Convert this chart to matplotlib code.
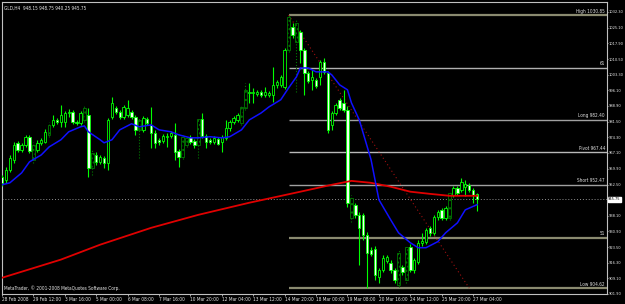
import matplotlib
matplotlib.use("Agg")
import matplotlib.pyplot as plt
import matplotlib.transforms as mtransforms
from matplotlib.patches import Rectangle

plt.rcParams["font.family"] = ["DejaVu Sans"]
plt.rcParams["font.stretch"] = "condensed"

# GLD H4 candles, bar 0 = 28 Feb 2008
opens = [956.1, 954.7, 959.3, 963.9, 971.8, 968.6, 970.9, 974.6, 963.9, 968.6,
         971.8, 972.3, 975.5, 980.1, 982.4, 981.5, 981.5, 985.6, 986.1, 981.5,
         981.0, 982.4, 984.7, 960.2, 966.2, 963.0, 964.9, 962.6, 983.8, 988.0,
         986.1, 983.8, 984.7, 986.1, 983.8, 977.8, 977.8, 982.9, 980.1, 976.4,
         973.2, 972.7, 974.6, 975.0, 975.5, 968.1, 965.3, 970.9, 974.6, 972.7,
         970.9, 982.9, 975.0, 973.2, 972.3, 973.6, 972.3, 974.1, 978.7, 981.5,
         982.4, 981.0, 988.0, 994.9, 994.9, 994.4, 995.3, 994.0, 994.0, 994.0,
         998.6, 998.6, 997.7, 1014.7, 1025.4, 1027.2, 1023.1, 1014.7, 1004.1, 1000.9,
         1000.9, 1002.3, 1009.2, 1004.1, 980.1, 985.6, 991.7, 990.3, 987.0, 937.1,
         943.2, 938.5, 938.5, 929.3, 922.4, 922.8, 909.9, 913.1, 917.3, 916.4,
         913.1, 906.2, 914.5, 908.5, 923.8, 913.1, 916.8, 925.6, 926.1, 932.5,
         930.2, 937.6, 940.8, 937.1, 937.1, 947.8, 951.0, 950.1, 951.5, 952.4,
         950.1, 948.15]
highs = [957.0, 960.7, 966.2, 972.3, 972.7, 971.8, 975.5, 975.5, 972.3, 973.2,
         974.1, 978.3, 981.5, 984.7, 983.3, 989.3, 986.6, 987.5, 987.0, 982.4,
         986.6, 988.9, 988.0, 968.6, 967.6, 966.2, 965.8, 983.3, 993.0, 988.9,
         987.0, 989.3, 991.7, 987.0, 984.7, 983.3, 984.3, 983.8, 988.4, 977.8,
         974.1, 976.0, 976.4, 977.3, 981.0, 969.0, 975.5, 975.0, 975.5, 973.6,
         983.8, 985.6, 976.0, 974.1, 975.0, 974.6, 975.5, 982.4, 982.4, 984.3,
         985.6, 989.3, 999.5, 999.5, 997.2, 996.3, 996.3, 997.7, 995.8, 1006.9,
         1000.9, 1003.2, 1015.7, 1030.85, 1027.2, 1028.6, 1024.0, 1015.7, 1005.0, 1005.5,
         1001.8, 1010.1, 1011.1, 1005.0, 986.6, 990.3, 992.6, 996.3, 988.9, 947.8,
         944.1, 939.9, 939.5, 930.7, 923.8, 924.2, 914.1, 920.1, 920.1, 917.8,
         914.1, 922.4, 915.4, 924.7, 925.1, 918.7, 927.0, 930.2, 932.5, 933.5,
         938.5, 940.8, 941.8, 942.7, 949.6, 951.9, 951.9, 955.6, 954.7, 953.3,
         951.0, 948.75]
lows = [951.9, 953.3, 958.4, 962.6, 967.6, 967.6, 969.9, 967.2, 962.6, 967.6,
        970.9, 971.8, 974.6, 979.2, 980.6, 979.2, 979.2, 983.8, 980.6, 980.1,
        980.1, 981.5, 956.1, 957.0, 961.6, 962.1, 960.2, 959.3, 982.9, 985.2,
        982.9, 982.9, 983.8, 982.9, 975.5, 964.9, 976.9, 980.1, 969.5, 969.5,
        970.9, 971.8, 969.9, 974.1, 963.9, 960.7, 964.4, 969.9, 971.3, 969.5,
        964.9, 974.1, 969.5, 971.3, 971.3, 970.9, 967.6, 973.2, 977.3, 980.6,
        981.5, 980.1, 987.0, 990.3, 990.3, 993.5, 993.0, 993.0, 993.0, 990.7,
        997.2, 997.7, 996.7, 1013.8, 1020.3, 995.3, 1008.7, 994.0, 999.5, 996.3,
        997.2, 998.6, 1003.7, 976.4, 977.8, 984.7, 987.0, 986.1, 942.2, 935.3,
        937.1, 915.4, 927.0, 904.62, 919.6, 908.5, 907.1, 912.2, 916.4, 911.7,
        907.1, 905.3, 910.8, 907.1, 912.2, 911.7, 915.9, 924.2, 925.1, 928.8,
        929.3, 936.2, 936.2, 936.2, 936.2, 946.8, 947.8, 949.2, 947.3, 949.2,
        944.1, 940.25]
closes = [953.3, 959.3, 964.9, 970.9, 968.6, 970.9, 974.6, 968.1, 970.9, 971.8,
          973.2, 976.9, 980.1, 982.4, 981.5, 984.7, 985.6, 986.1, 981.5, 981.0,
          985.6, 988.0, 960.2, 967.2, 963.0, 965.3, 962.6, 982.4, 990.3, 986.1,
          983.8, 988.4, 988.0, 983.8, 977.8, 982.4, 983.3, 981.0, 976.4, 971.8,
          972.3, 975.0, 975.0, 976.4, 967.6, 965.3, 974.6, 974.1, 972.3, 970.9,
          982.9, 975.0, 972.3, 972.3, 974.1, 971.3, 974.6, 978.7, 981.5, 983.3,
          984.7, 988.4, 996.3, 995.3, 995.3, 995.3, 994.0, 995.3, 994.9, 998.6,
          1000.0, 1002.3, 1014.7, 1030.0, 1021.7, 1018.4, 1014.7, 1004.1, 1000.4, 1002.3,
          998.1, 1009.2, 1004.6, 977.8, 985.6, 989.3, 988.0, 987.0, 944.1, 946.4,
          938.5, 932.5, 929.3, 921.0, 920.5, 910.8, 913.1, 918.7, 919.1, 913.1,
          908.5, 921.0, 912.2, 923.8, 913.1, 917.8, 925.6, 926.5, 931.6, 930.2,
          937.6, 939.9, 937.1, 941.8, 948.7, 951.0, 948.7, 953.8, 952.9, 950.1,
          947.8, 945.75]
dim_bars = [8, 12, 21, 23, 35, 46, 47, 50, 61, 62, 73, 75, 89, 101, 103, 114]

fast_ma_bars = [0, 2, 5, 7, 10, 12, 15, 17, 20, 21, 22, 25, 26, 28, 30, 33, 35, 38,
                40, 43, 45, 48, 50, 53, 56, 58, 61, 63, 66, 68, 71, 73, 75, 76, 78,
                80, 83, 84, 86, 88, 89, 91, 94, 96, 99, 101, 104, 106, 108, 111,
                113, 116, 118, 121]
fast_ma = [952.4, 953.3, 957.9, 963.0, 966.2, 969.9, 973.2, 976.9, 979.2, 979.6,
           976.9, 973.2, 971.8, 973.2, 977.8, 980.6, 979.2, 980.1, 977.8, 976.9,
           975.5, 974.1, 974.1, 974.6, 974.1, 974.6, 977.8, 982.4, 985.6, 988.4,
           991.7, 997.2, 1002.3, 1006.4, 1006.4, 1004.6, 1004.6, 1003.2, 998.6, 996.3,
           990.3, 982.4, 964.0, 945.5, 936.2, 930.2, 925.6, 923.3, 923.3, 926.1,
           930.2, 934.8, 940.8, 943.2]
slow_ma_bars = [0, 15, 25, 38, 50, 63, 76, 84, 89, 94, 99, 104, 109, 114, 121]
slow_ma = [909.4, 917.8, 924.7, 932.5, 938.5, 944.1, 949.2, 952.4, 954.2, 953.3,
           951.5, 949.2, 948.2, 947.3, 947.3]

time_labels = ["28 Feb 2008", "29 Feb 12:00", "3 Mar 16:00", "5 Mar 00:00",
               "6 Mar 08:00", "7 Mar 16:00", "10 Mar 20:00", "12 Mar 04:00",
               "13 Mar 12:00", "14 Mar 20:00", "18 Mar 00:00", "19 Mar 08:00",
               "20 Mar 16:00", "24 Mar 12:00", "25 Mar 20:00", "27 Mar 04:00"]
price_ticks = [1032.30, 1025.10, 1017.90, 1010.50, 1003.30, 996.10, 988.90, 981.50,
               974.30, 967.10, 959.90, 952.50, 938.10, 930.90, 923.50, 916.30,
               909.10, 901.90]

level_names = ["High 1030.85", "61", "Long 982.40", "Pivot 967.44", "Short 952.47", "51", "Low 904.62"]
level_values = [1030.85, 1006.4, 982.40, 967.44, 952.47, 927.9, 904.62]
level_colors = ["#8a8a70", "#b0b0b0", "#a0a0a0", "#b8b8b8", "#a0a0a0", "#8a8a70", "#8a8a70"]
level_start = 73

trend_bars = [73, 119]
trend_prices = [1030.85, 904.62]
last_price = 945.75

GREEN = "#00ff00"
DIM = "#007a00"
FS = 3.4
FS_Y = 2.9

fig = plt.figure(figsize=(6.25, 3.04), dpi=100, facecolor="black")
ax = fig.add_axes([2 / 625, 10 / 304, 605 / 625, 292 / 304])
ax.set_facecolor("black")
ax.set_xlim(0.13, 154.1)
ax.set_ylim(902.0, 1036.9)

# pivot / fibo levels
for name, val, col in zip(level_names, level_values, level_colors):
    lw = 1.6 if col == "#8a8a70" else 1.0
    ax.hlines(val, level_start, 154.1, colors=col, linewidth=lw, zorder=1)
    ax.text(153.6, val + 0.7, name, color="#e0e0e0", fontsize=FS,
            ha="right", va="bottom", zorder=5)

ax.axhline(last_price, color="#909090", linewidth=0.7, linestyle=(0, (1, 2)), zorder=1)
ax.plot(trend_bars, trend_prices, color="#a01010", linewidth=0.8,
        linestyle=(0, (1, 2.5)), zorder=2)

# candles
w = 0.62
for i, (o, h, l, c) in enumerate(zip(opens, highs, lows, closes)):
    dim = i in dim_bars
    col = DIM if dim else GREEN
    ax.vlines(i, l, h, colors=col, linewidth=0.8,
              linestyles=":" if dim else "-", zorder=3)
    bottom = min(o, c)
    height = max(abs(c - o), 0.3)
    if dim:
        body = Rectangle((i - w / 2, bottom), w, height, facecolor="black",
                         edgecolor=DIM, hatch="....", linewidth=0.6, zorder=4)
    else:
        face = "black" if c >= o else "#f0fff0"
        body = Rectangle((i - w / 2, bottom), w, height, facecolor=face,
                         edgecolor=GREEN, linewidth=0.6, zorder=4)
    ax.add_patch(body)

ax.plot(slow_ma_bars, slow_ma, color="#e00000", linewidth=1.3, zorder=6)
ax.plot(fast_ma_bars, fast_ma, color="#1010ff", linewidth=1.1, zorder=6)

# axes styling
for s in ax.spines.values():
    s.set_color("#c0c0c0")
    s.set_linewidth(0.8)
ax.yaxis.tick_right()
ax.set_yticks(price_ticks)
ax.set_yticklabels([f"{p:.2f}" for p in price_ticks])
ax.set_xticks(range(0, 8 * len(time_labels), 8))
ax.set_xticklabels(time_labels, ha="left")
ax.tick_params(axis="x", colors="#c0c0c0", labelcolor="#e8e8e8",
               labelsize=FS, length=1.5, width=0.6, pad=0.6)
ax.tick_params(axis="y", colors="#c0c0c0", labelcolor="#e8e8e8",
               labelsize=FS_Y, length=1.0, width=0.6, pad=0.5)

trans = mtransforms.blended_transform_factory(ax.transAxes, ax.transData)
ax.text(1.002, last_price, f"{last_price:.2f}", transform=trans, fontsize=FS_Y,
        color="black", va="center", ha="left",
        bbox=dict(boxstyle="square,pad=0.15", facecolor="white", edgecolor="white"),
        zorder=10, clip_on=False)

ax.text(0.004, 0.988, "GLD,H4  948.15 948.75 940.25 945.75", transform=ax.transAxes,
        color="#e8e8e8", fontsize=FS, ha="left", va="top")
ax.text(0.004, 0.01, "MetaTrader, \u00a9 2001-2008 MetaQuotes Software Corp.",
        transform=ax.transAxes, color="#e8e8e8", fontsize=FS, ha="left", va="bottom")

fig.savefig("out.png", dpi=100, facecolor="black")
